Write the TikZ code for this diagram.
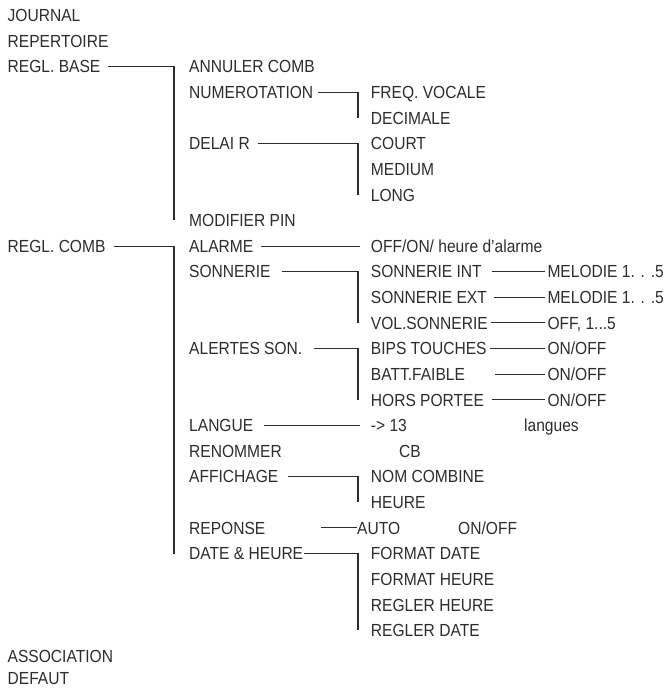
\documentclass[tikz,border=0pt]{standalone}
\usepackage{fontspec}
\setmainfont{Liberation Sans}[FakeStretch=0.89]
\definecolor{ink}{RGB}{45,45,45}
\begin{document}
\begin{tikzpicture}[x=1pt,y=-1pt,
  lbl/.style={anchor=west, inner sep=0pt, text height=12.5pt, text depth=0pt, text=ink,
              font=\fontsize{17.5}{20}\selectfont},
  conn/.style={draw=ink, line width=1.1pt}]
\useasboundingbox (0,0) rectangle (668,688);
\def\R#1{{15.5+25.62*#1}}
% column A
\node[lbl] (j)    at (7.5,\R{0})  {JOURNAL};
\node[lbl] (rep)  at (7.5,\R{1})  {REPERTOIRE};
\node[lbl] (rb)   at (7.5,\R{2})  {REGL. BASE};
\node[lbl] (rc)   at (7.5,\R{9})  {REGL. COMB};
\node[lbl] (asso) at (7.5,\R{25}) {ASSOCIATION};
\node[lbl] (def)  at (7.5,678) {DEFAUT};
% column B
\node[lbl] (annul)  at (189,\R{2})  {ANNULER COMB};
\node[lbl] (numer)  at (189,\R{3})  {NUMEROTATION};
\node[lbl] (delai)  at (189,\R{5})  {DELAI R};
\node[lbl] (mpin)   at (189,\R{8})  {MODIFIER PIN};
\node[lbl] (alarme) at (189,\R{9})  {ALARME};
\node[lbl] (sonn)   at (189,\R{10}) {SONNERIE};
\node[lbl] (alert)  at (189,\R{13}) {ALERTES SON.};
\node[lbl] (langue) at (189,\R{16}) {LANGUE};
\node[lbl] (renom)  at (189,\R{17}) {RENOMMER};
\node[lbl] (affich) at (189,\R{18}) {AFFICHAGE};
\node[lbl] (repon)  at (189,\R{20}) {REPONSE};
\node[lbl] (dateh)  at (189,\R{21}) {DATE \& HEURE};
% column C
\node[lbl] (freq)   at (370.7,\R{3})  {FREQ. VOCALE};
\node[lbl] (deci)   at (370.7,\R{4})  {DECIMALE};
\node[lbl] (court)  at (370.7,\R{5})  {COURT};
\node[lbl] (medium) at (370.7,\R{6})  {MEDIUM};
\node[lbl] (long)   at (370.7,\R{7})  {LONG};
\node[lbl] (offon)  at (370.7,\R{9})  {OFF/ON/ heure d’alarme};
\node[lbl] (sint)   at (370.7,\R{10}) {SONNERIE INT};
\node[lbl] (sext)   at (370.7,\R{11}) {SONNERIE EXT};
\node[lbl] (vol)    at (370.7,\R{12}) {VOL.SONNERIE};
\node[lbl] (bips)   at (370.7,\R{13}) {BIPS TOUCHES};
\node[lbl] (batt)   at (370.7,\R{14}) {BATT.FAIBLE};
\node[lbl] (hors)   at (370.7,\R{15}) {HORS PORTEE};
\node[lbl] (l13)    at (370.7,\R{16}) {-> 13};
\node[lbl] (langs)  at (524,\R{16})   {langues};
\node[lbl] (cb)     at (399,\R{17})   {CB};
\node[lbl] (nomc)   at (370.7,\R{18}) {NOM COMBINE};
\node[lbl] (heure)  at (370.7,\R{19}) {HEURE};
\node[lbl] (auto)   at (357,\R{20})   {AUTO};
\node[lbl] (onoffr) at (458,\R{20})   {ON/OFF};
\node[lbl] (fdate)  at (370.7,\R{21}) {FORMAT DATE};
\node[lbl] (fheure) at (370.7,\R{22}) {FORMAT HEURE};
\node[lbl] (rheure) at (370.7,\R{23}) {REGLER HEURE};
\node[lbl] (rdate)  at (370.7,\R{24}) {REGLER DATE};
% column D
\node[lbl] (mel1) at (547.3,\R{10}) {MELODIE 1. . .5};
\node[lbl] (mel2) at (547.3,\R{11}) {MELODIE 1. . .5};
\node[lbl] (off5) at (547.3,\R{12}) {OFF, 1...5};
\node[lbl] (on1)  at (547.3,\R{13}) {ON/OFF};
\node[lbl] (on2)  at (547.3,\R{14}) {ON/OFF};
\node[lbl] (on3)  at (547.3,\R{15}) {ON/OFF};
% connectors
\draw[conn] ([xshift=7pt]rb.east) -| ([xshift=-15pt]mpin.west);
\draw[conn] ([xshift=8pt]rc.east) -| ([xshift=-15pt]dateh.west);
\draw[conn] ([xshift=5pt]numer.east) -| ([xshift=-12.7pt]deci.west);
\draw[conn] ([xshift=8pt]delai.east) -| ([xshift=-12.7pt]long.west);
\draw[conn] ([xshift=8pt]alarme.east) -- ([xshift=-10.7pt]offon.west);
\draw[conn] ([xshift=11pt]sonn.east) -| ([xshift=-12.7pt]vol.west);
\draw[conn] ([xshift=11pt]alert.east) -| ([xshift=-12.7pt]hors.west);
\draw[conn] ([xshift=11pt]langue.east) -- ([xshift=-10.7pt]l13.west);
\draw[conn] ([xshift=9pt]affich.east) -| ([xshift=-12.7pt]heure.west);
\draw[conn] ([xshift=55pt]repon.east) -- (auto.west);
\draw[conn] ([xshift=1pt]dateh.east) -| ([xshift=-12.7pt]rdate.west);
\draw[conn] ([xshift=10pt]sint.east) -- ([xshift=-2.5pt]mel1.west);
\draw[conn] ([xshift=6.5pt]sext.east) -- ([xshift=-2.5pt]mel2.west);
\draw[conn] ([xshift=3pt]vol.east)  -- ([xshift=-2.5pt]off5.west);
\draw[conn] ([xshift=3pt]bips.east) -- ([xshift=-2.5pt]on1.west);
\draw[conn] ([xshift=30pt]batt.east) -- ([xshift=-2.5pt]on2.west);
\draw[conn] ([xshift=7.5pt]hors.east) -- ([xshift=-2.5pt]on3.west);
\end{tikzpicture}
\end{document}
